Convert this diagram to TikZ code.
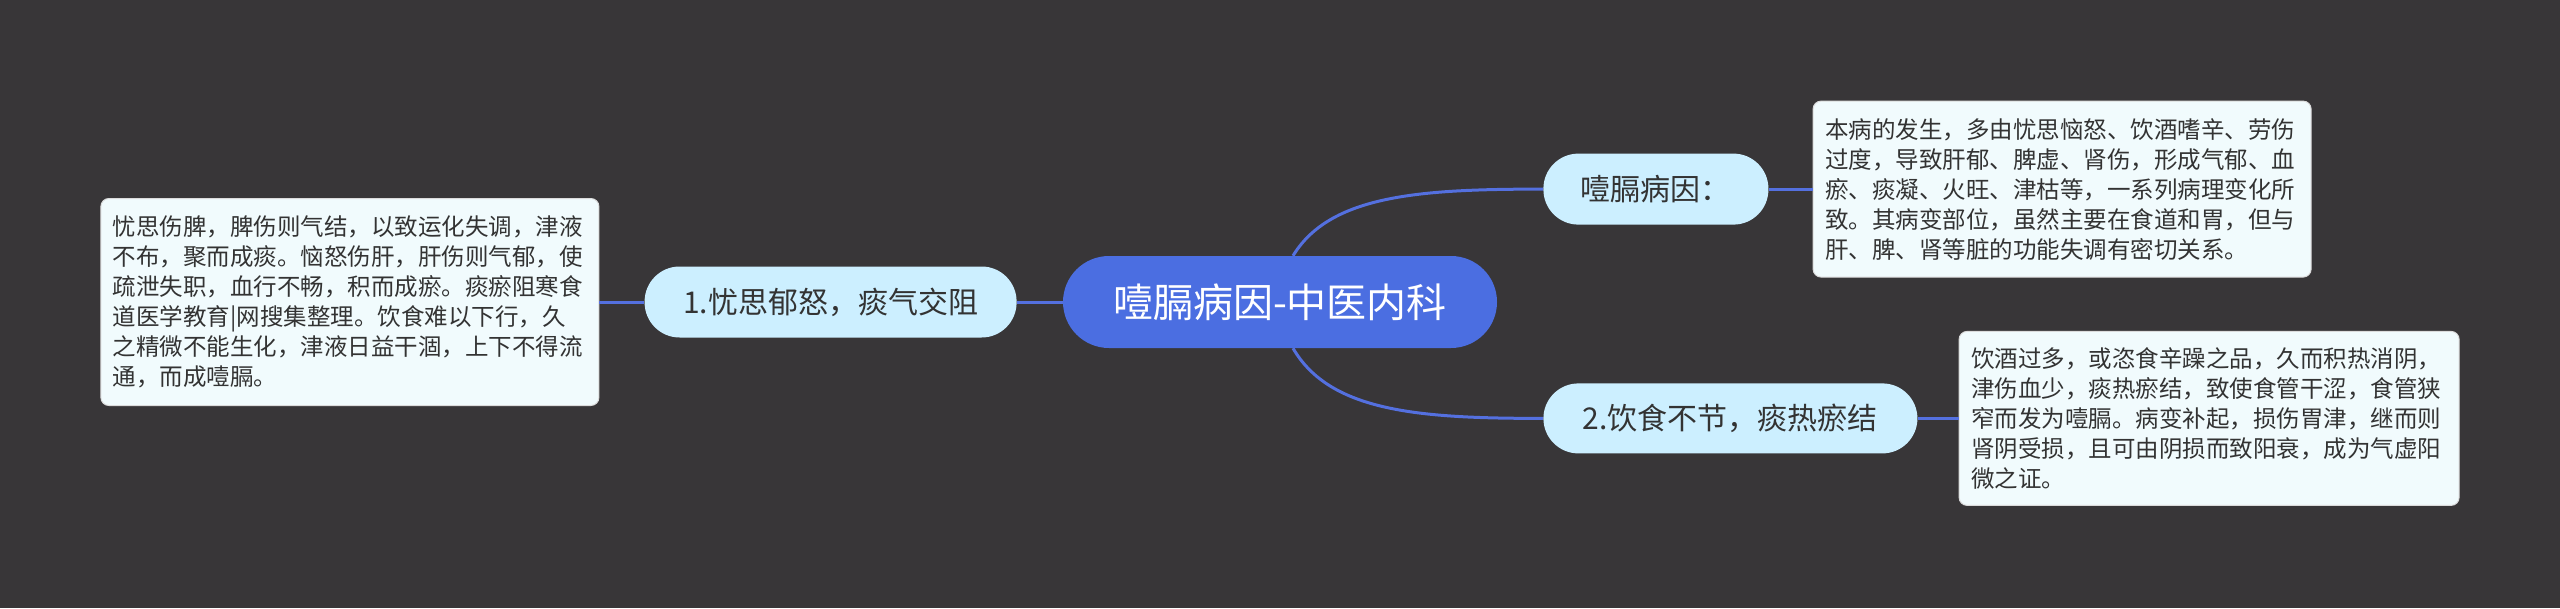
\documentclass[tikz,border=0pt]{standalone}
\usepackage{fontspec}
\setmainfont{Noto Sans CJK SC}
\usepackage{tikz}
\usetikzlibrary{positioning}
\definecolor{canvas}{HTML}{383638}
\definecolor{rootblue}{HTML}{4B6EE1}
\definecolor{linkblue}{HTML}{5470DF}
\definecolor{branchfill}{HTML}{CCEFFF}
\definecolor{notefill}{HTML}{F1FBFD}
\definecolor{ink}{HTML}{333333}

\begin{document}
\begin{tikzpicture}[root/.style={fill=rootblue,rounded corners=46pt,minimum width=434pt,minimum height=92pt,inner sep=0pt,text=white,font=\fontsize{40}{48}\selectfont},branch/.style={fill=branchfill,rounded corners=35pt,minimum height=71pt,inner sep=0pt,text=ink,font=\fontsize{30}{36}\selectfont},note/.style={draw=white!72!gray,line width=1pt,fill=notefill,rounded corners=8pt,align=left,inner xsep=12pt,inner ysep=0pt,text=ink,font=\fontsize{23.5}{30}\selectfont},link/.style={draw=linkblue,line width=3pt}]
\fill[canvas] (0,0) rectangle (2560pt,-608pt);
\useasboundingbox (0,0) rectangle (2560pt,-608pt);
\node[root] (root) at (1280pt,-302pt) {噎膈病因-中医内科};
\node[branch,minimum width=372pt,left=46pt of root] (yousi) {1.忧思郁怒，痰气交阻};
\node[branch,minimum width=225pt,above right=31pt and 46pt of root] (bingyin) {噎膈病因：};
\node[branch,minimum width=374pt,minimum height=70pt,below right=35pt and 46pt of root] (yinshi) {2.饮食不节，痰热瘀结};
\node[note,text width=474pt,minimum height=207pt,left=45pt of yousi] (yousinote) {忧思伤脾，脾伤则气结，以致运化失调，津液\\不布，聚而成痰。恼怒伤肝，肝伤则气郁，使\\疏泄失职，血行不畅，积而成瘀。痰瘀阻寒食\\道医学教育|网搜集整理。饮食难以下行，久\\之精微不能生化，津液日益干涸，上下不得流\\通，而成噎膈。};
\node[note,text width=474pt,minimum height=176pt,right=44pt of bingyin] (bingyinnote) {本病的发生，多由忧思恼怒、饮酒嗜辛、劳伤\\过度，导致肝郁、脾虚、肾伤，形成气郁、血\\瘀、痰凝、火旺、津枯等，一系列病理变化所\\致。其病变部位，虽然主要在食道和胃，但与\\肝、脾、肾等脏的功能失调有密切关系。};
\node[note,text width=476pt,minimum height=174pt,right=41pt of yinshi] (yinshinote) {饮酒过多，或恣食辛躁之品，久而积热消阴，\\津伤血少，痰热瘀结，致使食管干涩，食管狭\\窄而发为噎膈。病变补起，损伤胃津，继而则\\肾阴受损，且可由阴损而致阳衰，成为气虚阳\\微之证。};
\draw[link] (root.west)--(yousi.east);
\draw[link] (yousi.west)--(yousinote.east);
\draw[link] ([xshift=13pt]root.north) .. controls +(37pt,61pt) and +(-123pt,0pt) .. (bingyin.west);
\draw[link] ([xshift=13pt]root.south) .. controls +(37pt,-64pt) and +(-123pt,0pt) .. (yinshi.west);
\draw[link] (bingyin.east)--(bingyinnote.west);
\draw[link] (yinshi.east)--(yinshinote.west);
\end{tikzpicture}
\end{document}
